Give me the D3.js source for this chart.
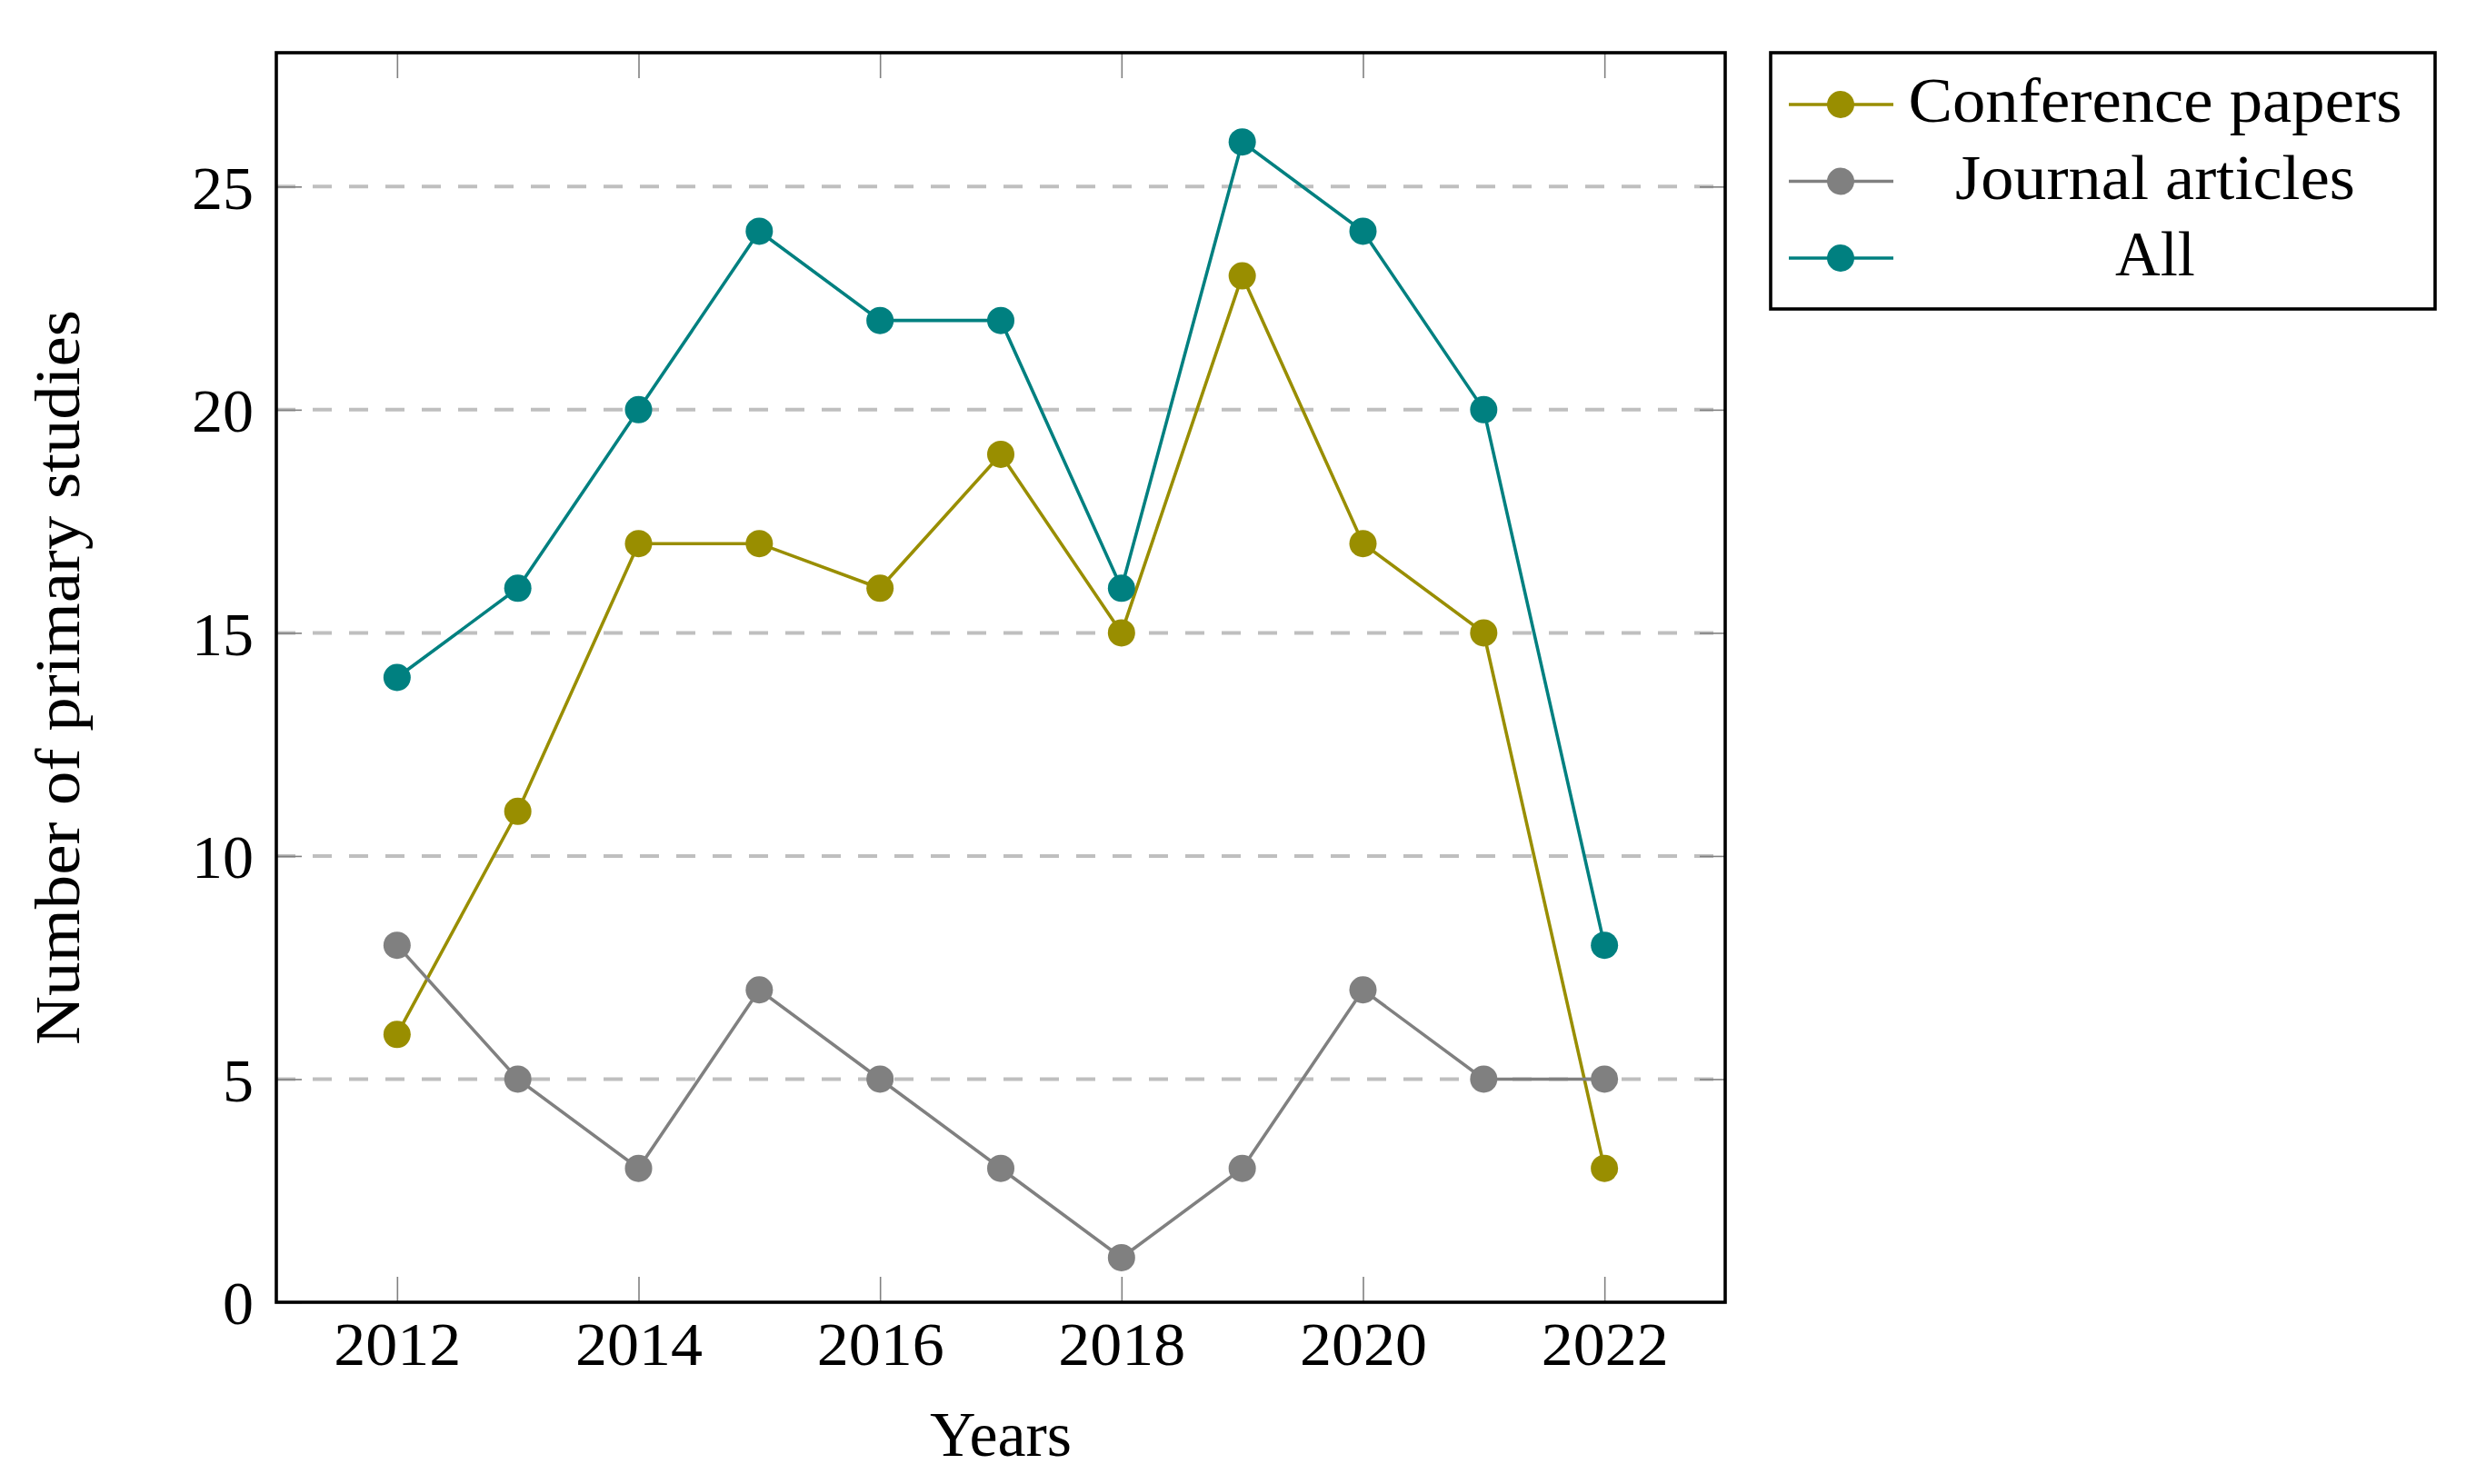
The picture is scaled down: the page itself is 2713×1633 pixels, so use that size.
<!DOCTYPE html>
<html>
<head>
<meta charset="utf-8">
<script src="https://cdn.jsdelivr.net/npm/d3@7"></script>
<style>
  body { margin: 0; background: #fff; }
  text { font-family: "Palatino Linotype", "URW Palladio L", "Book Antiqua", "Liberation Serif", serif; fill: #000; }
</style>
</head>
<body>
<svg id="chart" width="2713" height="1633"></svg>
<script>
const years = [2012, 2013, 2014, 2015, 2016, 2017, 2018, 2019, 2020, 2021, 2022];
const conference = [6, 11, 17, 17, 16, 19, 15, 23, 17, 15, 3];
const journal = [8, 5, 3, 7, 5, 3, 1, 3, 7, 5, 5];
const all = [14, 16, 20, 24, 22, 22, 16, 26, 24, 20, 8];
const xTicks = [2012, 2014, 2016, 2018, 2020, 2022];
const yTicks = [0, 5, 10, 15, 20, 25];

const series = [
  { name: "Conference papers", values: conference, color: "#998e00", width: 543 },
  { name: "Journal articles", values: journal, color: "#808080", width: 440 },
  { name: "All", values: all, color: "#008080", width: 88 }
];

const svg = d3.select("#chart");
const plot = { left: 304, right: 1898, top: 58, bottom: 1433 };

const x = d3.scaleLinear().domain([2011, 2023]).range([plot.left, plot.right]);
const y = d3.scaleLinear().domain([0, 28]).range([plot.bottom, plot.top]);

// dashed horizontal grid
svg.append("g")
  .selectAll("line")
  .data(yTicks.filter(d => d > 0))
  .join("line")
  .attr("x1", plot.left).attr("x2", plot.right)
  .attr("y1", d => y(d)).attr("y2", d => y(d))
  .attr("stroke", "#bfbfbf")
  .attr("stroke-width", 4)
  .attr("stroke-dasharray", "21,19");

const tick = 28;

const xAxis = svg.append("g")
  .attr("transform", `translate(0,${plot.bottom})`)
  .call(d3.axisBottom(x).tickValues(xTicks).tickSize(-tick).tickFormat(d3.format("d")));
xAxis.selectAll("text").attr("y", 69).attr("dy", null).attr("font-size", 68)
  .attr("textLength", 140).attr("lengthAdjust", "spacingAndGlyphs");

svg.append("g")
  .attr("transform", `translate(0,${plot.top})`)
  .call(d3.axisTop(x).tickValues(xTicks).tickSize(-tick).tickFormat(""));

const yAxis = svg.append("g")
  .attr("transform", `translate(${plot.left},0)`)
  .call(d3.axisLeft(y).tickValues(yTicks).tickSize(-tick).tickPadding(25));
yAxis.selectAll("text").attr("font-size", 68).attr("dy", "0.35em");

svg.append("g")
  .attr("transform", `translate(${plot.right},0)`)
  .call(d3.axisRight(y).tickValues(yTicks).tickSize(-tick).tickFormat(""));

svg.selectAll(".domain").remove();
svg.selectAll(".tick line").attr("stroke", "#808080").attr("stroke-width", 1.6);
svg.selectAll(".tick text").attr("fill", "#000");

// series lines and markers
const line = d3.line()
  .x((d, i) => x(years[i]))
  .y(d => y(d));

series.forEach(s => {
  svg.append("path")
    .datum(s.values)
    .attr("fill", "none")
    .attr("stroke", s.color)
    .attr("stroke-width", 3.6)
    .attr("d", line);
  svg.append("g")
    .selectAll("circle")
    .data(s.values)
    .join("circle")
    .attr("cx", (d, i) => x(years[i]))
    .attr("cy", d => y(d))
    .attr("r", 15)
    .attr("fill", s.color);
});

// frame
svg.append("rect")
  .attr("x", plot.left).attr("y", plot.top)
  .attr("width", plot.right - plot.left).attr("height", plot.bottom - plot.top)
  .attr("fill", "none").attr("stroke", "#000").attr("stroke-width", 3.6);

// axis titles
svg.append("text")
  .attr("x", (plot.left + plot.right) / 2).attr("y", 1602)
  .attr("text-anchor", "middle").attr("font-size", 70)
  .text("Years");

svg.append("text")
  .attr("transform", `translate(87,${(plot.top + plot.bottom) / 2}) rotate(-90)`)
  .attr("text-anchor", "middle").attr("font-size", 70)
  .attr("textLength", 809).attr("lengthAdjust", "spacingAndGlyphs")
  .text("Number of primary studies");

// legend
const legend = svg.append("g");
legend.append("rect")
  .attr("x", 1948).attr("y", 58)
  .attr("width", 731).attr("height", 282)
  .attr("fill", "#fff").attr("stroke", "#000").attr("stroke-width", 3.6);

const rowY = d3.scalePoint().domain(series.map(s => s.name)).range([115, 284]);

const rows = legend.selectAll("g.row")
  .data(series)
  .join("g")
  .attr("class", "row")
  .attr("transform", s => `translate(0,${rowY(s.name)})`);

rows.append("line")
  .attr("x1", 1968).attr("x2", 2083)
  .attr("stroke", s => s.color).attr("stroke-width", 3.6);
rows.append("circle")
  .attr("cx", 2025).attr("r", 15)
  .attr("fill", s => s.color);
rows.append("text")
  .attr("x", 2371).attr("y", 19)
  .attr("text-anchor", "middle").attr("font-size", 70)
  .attr("textLength", s => s.width).attr("lengthAdjust", "spacingAndGlyphs")
  .text(s => s.name);
</script>
</body>
</html>
